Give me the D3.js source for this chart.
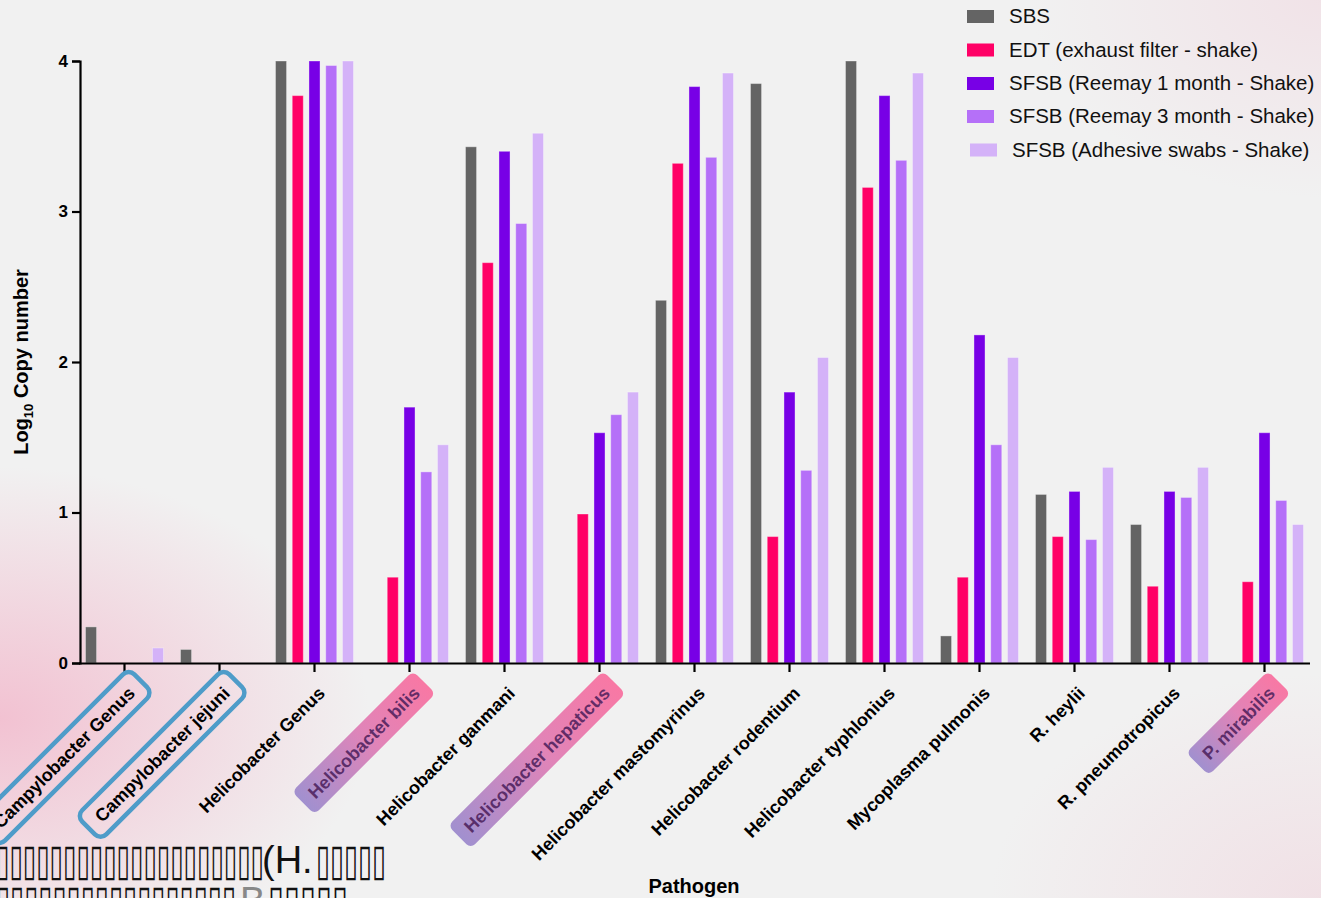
<!DOCTYPE html>
<html><head><meta charset="utf-8">
<script src="https://cdn.jsdelivr.net/npm/d3@7"></script>
<style>
html,body{margin:0;padding:0;background:#f1f1f1;overflow:hidden}
svg{display:block;font-family:"Liberation Sans",Arial,sans-serif}
</style></head>
<body>
<svg id="chart" width="1321" height="898"></svg>
<script>
const categories = ["Campylobacter Genus","Campylobacter jejuni","Helicobacter Genus","Helicobacter bilis","Helicobacter ganmani","Helicobacter hepaticus","Helicobacter mastomyrinus","Helicobacter rodentium","Helicobacter typhlonius","Mycoplasma pulmonis","R. heylii","R. pneumotropicus","P. mirabilis"];
const seriesNames = ["SBS","EDT (exhaust filter - shake)","SFSB (Reemay 1 month - Shake)","SFSB (Reemay 3 month - Shake)","SFSB (Adhesive swabs - Shake)"];
const seriesColors = ["#646464","#ff0066","#7800e6","#b570f8","#d4b2f8"];
const SBS   = [0.24,0.09,4.00,0,   3.43,0,   2.41,3.85,4.00,0.18,1.12,0.92,0];
const EDT   = [0,   0,   3.77,0.57,2.66,0.99,3.32,0.84,3.16,0.57,0.84,0.51,0.54];
const REE1  = [0,   0,   4.00,1.70,3.40,1.53,3.83,1.80,3.77,2.18,1.14,1.14,1.53];
const REE3  = [0,   0,   3.97,1.27,2.92,1.65,3.36,1.28,3.34,1.45,0.82,1.10,1.08];
const ADH   = [0.10,0,   4.00,1.45,3.52,1.80,3.92,2.03,3.92,2.03,1.30,1.30,0.92];
const yTicks = [0,1,2,3,4];
const boxedLabels = ["Campylobacter Genus","Campylobacter jejuni"];
const highlightedLabels = ["Helicobacter bilis","Helicobacter hepaticus","P. mirabilis"];
const seriesValues = [SBS,EDT,REE1,REE3,ADH];

const svg = d3.select("#chart");
const defs = svg.append("defs");

// background glows
const bg = [
  {id:"g1", cx:"0%", cy:"80%", r:"28%", c:"#f2bfd0", o:0.95},
  {id:"g2", cx:"100%", cy:"0%", r:"22%", c:"#f1d4de", o:0.5},
  {id:"g3", cx:"100%", cy:"100%", r:"25%", c:"#f0d0da", o:0.5}
];
bg.forEach(g=>{
  const rg = defs.append("radialGradient").attr("id",g.id).attr("cx",g.cx).attr("cy",g.cy).attr("r",g.r);
  rg.append("stop").attr("offset","0%").attr("stop-color",g.c).attr("stop-opacity",g.o);
  rg.append("stop").attr("offset","100%").attr("stop-color",g.c).attr("stop-opacity",0);
});
svg.append("rect").attr("width",1321).attr("height",898).attr("fill","#f1f1f1");
bg.forEach(g=>svg.append("rect").attr("width",1321).attr("height",898).attr("fill",`url(#${g.id})`));

const lg = defs.append("linearGradient").attr("id","hl").attr("x1","0%").attr("x2","100%").attr("y1","0%").attr("y2","0%");
lg.append("stop").attr("offset","0%").attr("stop-color","#a190cf");
lg.append("stop").attr("offset","55%").attr("stop-color","#e184b8");
lg.append("stop").attr("offset","100%").attr("stop-color","#f878a4");

const x0 = d3.scaleBand().domain(categories).range([77,1312]).paddingInner(0).paddingOuter(0);
const x1 = d3.scaleBand().domain(d3.range(5)).range([-39,39]).paddingInner(0.34).paddingOuter(0);
const y = d3.scaleLinear().domain([0,4]).range([663,61]);

// bars
const g = svg.append("g");
categories.forEach((cat,i)=>{
  const gc = g.append("g").attr("transform",`translate(${x0(cat)+x0.bandwidth()/2},0)`);
  gc.selectAll("rect").data(seriesValues.map((s,k)=>({k,v:s[i]})).filter(d=>d.v>0))
    .join("rect")
    .attr("x",d=>x1(d.k)).attr("width",x1.bandwidth())
    .attr("y",d=>y(d.v)).attr("height",d=>y(0)-y(d.v))
    .attr("fill",d=>seriesColors[d.k])
    .attr("stroke","#ffffff").attr("stroke-opacity",0.35).attr("stroke-width",1);
});

// y axis
const yAxis = svg.append("g").attr("transform","translate(80,0)")
  .call(d3.axisLeft(y).tickValues(yTicks).tickFormat(d3.format("d")).tickSize(8).tickPadding(4));
yAxis.attr("font-size",17).attr("font-family","Liberation Sans, Arial, sans-serif");
yAxis.select(".domain").attr("stroke","#000").attr("stroke-width",2.2);
yAxis.selectAll(".tick line").attr("stroke","#000").attr("stroke-width",2.2);
yAxis.selectAll(".tick text").attr("font-size",17).attr("font-weight","bold").attr("fill","#000");

// x axis
const xAxis = svg.append("g").attr("transform","translate(0,663)")
  .call(d3.axisBottom(x0).tickSize(9).tickSizeOuter(0).tickFormat(""));
xAxis.select(".domain").attr("stroke","#000").attr("stroke-width",2.2).attr("d","M79,0.5H1310");
xAxis.selectAll(".tick line").attr("stroke","#000").attr("stroke-width",2.2);

// x labels
categories.forEach(cat=>{
  const cx = x0(cat)+x0.bandwidth()/2;
  const lgp = svg.append("g").attr("transform",`translate(${cx+7},${690}) rotate(-45)`);
  const isBox = boxedLabels.includes(cat), isHl = highlightedLabels.includes(cat);
  const t = lgp.append("text").text(cat).attr("text-anchor","end").attr("dy","0.35em")
    .attr("font-size",18).attr("font-weight","bold")
    .attr("font-family","Liberation Sans, Arial, sans-serif")
    .attr("fill", isHl ? "#4a1d5a" : "#000");
  if (isHl) t.attr("fill-opacity",0.85);
  if (isBox || isHl) {
    const w = t.node().getComputedTextLength();
    const r = lgp.insert("rect","text").attr("x",-w-13).attr("y",-17).attr("width",w+26).attr("height",34).attr("rx",8);
    if (isBox) r.attr("fill","none").attr("stroke","#4e9cc9").attr("stroke-width",4.5);
    else r.attr("fill","url(#hl)").attr("x",-w-11).attr("y",-16).attr("width",w+22).attr("height",32).attr("rx",6);
  }
});

// axis titles
svg.append("text").attr("x",694).attr("y",893).attr("text-anchor","middle")
  .attr("font-size",20).attr("font-weight","bold").text("Pathogen");
const yt = svg.append("text").attr("transform","translate(28,362) rotate(-90)").attr("text-anchor","middle")
  .attr("font-size",20).attr("font-weight","bold");
yt.append("tspan").text("Log");
yt.append("tspan").text("10").attr("font-size",13).attr("dy",5);
yt.append("tspan").text(" Copy number").attr("dy",-5);

// legend
const leg = svg.append("g");
const legRows = seriesNames.map((n,i)=>({n,i}));
const legY = [16,49.5,83,116,149.5];
const legDx = [0,0,0,0,3];
leg.selectAll("rect").data(legRows).join("rect")
  .attr("x",d=>967+legDx[d.i]).attr("y",d=>legY[d.i]-6).attr("width",27).attr("height",13)
  .attr("fill",d=>seriesColors[d.i]);
leg.selectAll("text").data(legRows).join("text")
  .attr("x",d=>1009+legDx[d.i]).attr("y",d=>legY[d.i]).attr("dy","0.36em")
  .attr("font-size",20.5).attr("fill","#111").text(d=>d.n);

// garbled overlay text (tofu glyphs as in reference)
const tofuAttrs = s => s.attr("font-family","DejaVu Sans").attr("font-size",44)
  .attr("lengthAdjust","spacingAndGlyphs").attr("fill","#111");
svg.append("text").attr("x",-4).attr("y",875).attr("textLength",268).text("▯▯▯▯▯▯▯▯▯▯▯▯▯▯▯▯▯▯▯▯").call(tofuAttrs);
svg.append("text").attr("x",262).attr("y",873).attr("font-size",38).attr("fill","#111").text("(H.");
svg.append("text").attr("x",316).attr("y",875).attr("textLength",70).text("▯▯▯▯▯").call(tofuAttrs);
svg.append("text").attr("x",-4).attr("y",916).attr("textLength",240).text("▯▯▯▯▯▯▯▯▯▯▯▯▯▯▯▯▯").call(tofuAttrs);
svg.append("text").attr("x",240).attr("y",914).attr("font-size",38).attr("fill","#888").text("B");
svg.append("text").attr("x",268).attr("y",916).attr("textLength",80).text("▯▯▯▯▯").call(tofuAttrs);
</script>
</body></html>
